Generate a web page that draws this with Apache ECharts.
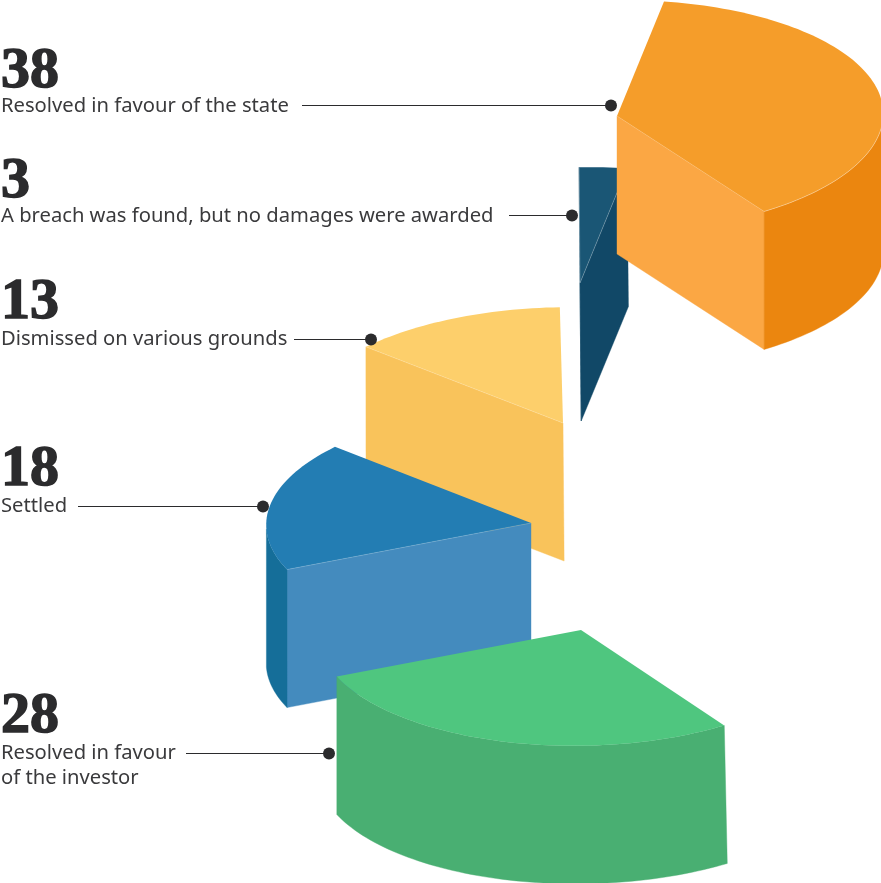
<!DOCTYPE html>
<html>
<head>
<meta charset="utf-8">
<title>Outcomes of investor-state cases</title>
<style>
  html, body { margin: 0; padding: 0; background: #fff; }
  #chart { width: 881px; height: 883px; }
</style>
<script src="https://cdn.jsdelivr.net/npm/echarts@6/dist/echarts.min.js"></script>
</head>
<body>
<div id="chart"></div>
<script>
// Case outcomes, in clockwise order around the pie
const categories = [
  'Resolved in favour of the state',
  'Resolved in favour\nof the investor',
  'Settled',
  'Dismissed on various grounds',
  'A breach was found, but no damages were awarded'
];
const values = [38, 28, 18, 13, 3];

// Colours per slice: top face, cut face, rim
const topColors = ['#F59D2A', '#4FC67F', '#237DB3', '#FDCF6B', '#1A5675'];
const cutColors = ['#FBA744', '#49AF72', '#448BBE', '#F9C35B', '#114867'];
const rimColors = ['#EB860F', '#49AF72', '#156E99', '#F9C35B', '#114867'];

// Exploded layout: where each slice's tip sits, and how slices stack
const tips = [[617, 116], [581, 630], [531, 523], [563, 423], [580, 283]];
const stackOrder = [1, 4, 3, 2, 0];
const leans = [0, 0.0077, 0, 0.005, 0.005];
const widen = [0.995, 0.99, 1.005, 1.005, 0.96];
const drift = [1.7, 0, 2.3, 0, 0];

// Oblique view of the unit circle, and the extrusion depth
const axisU = [47, -114.5];
const axisV = [262, 17.5];
const depth = 138;

// Highlight strength along the rim and along the cut edge
const rimGlow = [0.5, 0, 0, 0, 0];
const cutGlow = [0.25, 0, 0.3, 0.3, 0.4];

// Captions: leader line extent and the vertical centre of each text block
const leaders = [
  { x0: 302, x1: 611, y: 105.5 },
  { x0: 186, x1: 329, y: 753.5 },
  { x0: 78, x1: 263, y: 506.5 },
  { x0: 294, x1: 371, y: 339.5 },
  { x0: 509, x1: 572, y: 215.5 }
];
const numberY = [72, 717, 470, 303, 182];
const captionY = [106, 765.5, 506, 339, 216];

const INK = '#2B2B2D';
const total = values.reduce((a, b) => a + b, 0);
const numberFont = 'Liberation Serif';
const captionFont = 'Noto Sans';

function pointAt(i, deg) {
  const t = deg * Math.PI / 180;
  const tip = tips[i];
  const c = Math.cos(t);
  const s = Math.sin(t);
  return [
    tip[0] + c * axisU[0] + s * axisV[0] * widen[i] + drift[i] * (1 - c),
    tip[1] + c * axisU[1] + s * axisV[1]
  ];
}

function arcPoints(i, from, to) {
  const pts = [];
  const n = Math.max(4, Math.ceil((to - from) / 1.5));
  for (let k = 0; k <= n; k++) pts.push(pointAt(i, from + (to - from) * k / n));
  return pts;
}

function renderSlice(params, api) {
  const i = params.dataIndex;
  const before = values.slice(0, i).reduce((a, b) => a + b, 0);
  const from = echarts.number.linearMap(before, [0, total], [0, 360]);
  const to = echarts.number.linearMap(before + api.value(0), [0, total], [0, 360]);
  const tip = tips[i];
  const z = stackOrder[i] * 10;
  const arc = arcPoints(i, from, to);
  const sink = p => [p[0] + leans[i] * (p[0] - 337), p[1] + depth];
  const children = [];

  const wall = (pts, fill, z2) => children.push({
    type: 'polygon', z2, silent: true,
    shape: { points: pts.concat(pts.slice().reverse().map(sink)) },
    style: { fill, stroke: fill, lineWidth: 0.4 }
  });

  // Walls: an edge shows only where the outline runs leftwards on screen
  const cuts = [[tip, arc[0]], [arc[arc.length - 1], tip]].filter(e => e[1][0] < e[0][0]);
  cuts.forEach(edge => wall(edge, cutColors[i], z));
  const visibleRim = arc.filter((p, k) => k + 1 < arc.length ? arc[k + 1][0] < p[0] : arc[k - 1][0] > p[0]);
  if (visibleRim.length > 1) wall(visibleRim, rimColors[i], z + 1);

  // Top face and its fine highlights
  children.push({
    type: 'polygon', z2: z + 2, silent: true,
    shape: { points: [tip].concat(arc) },
    style: { fill: topColors[i] }
  });
  if (rimGlow[i] > 0) {
    children.push({
      type: 'polyline', z2: z + 3, silent: true,
      shape: { points: visibleRim },
      style: { fill: null, stroke: 'rgba(255,255,255,' + rimGlow[i] + ')', lineWidth: 0.7 }
    });
  }
  if (cutGlow[i] > 0) {
    cuts.forEach(edge => children.push({
      type: 'polyline', z2: z + 3, silent: true,
      shape: { points: edge },
      style: { fill: null, stroke: 'rgba(255,255,255,' + cutGlow[i] + ')', lineWidth: 0.6 }
    }));
  }

  // Leader line, dot, value and caption
  const l = leaders[i];
  children.push({
    type: 'line', z2: 100, silent: true,
    shape: { x1: l.x0, y1: l.y, x2: l.x1, y2: l.y },
    style: { stroke: INK, lineWidth: 1 }
  }, {
    type: 'circle', z2: 101, silent: true,
    shape: { cx: l.x1, cy: l.y, r: 6 },
    style: { fill: INK }
  }, {
    type: 'text', z2: 102, silent: true,
    style: {
      x: 1, y: numberY[i], text: String(api.value(0)),
      font: 'bold 58px "' + numberFont + '"',
      fill: INK, stroke: INK, lineWidth: 1.5,
      align: 'left', verticalAlign: 'middle'
    }
  }, {
    type: 'text', z2: 102, silent: true,
    style: {
      x: 1, y: captionY[i], text: categories[i],
      font: '20.2px "' + captionFont + '"',
      fill: '#3A3A3C', lineHeight: 25,
      align: 'left', verticalAlign: 'middle'
    }
  });
  return { type: 'group', children };
}

const chart = echarts.init(document.getElementById('chart'), null, { renderer: 'canvas' });
chart.setOption({
  animation: false,
  backgroundColor: '#fff',
  tooltip: { show: false },
  series: [{
    type: 'custom',
    coordinateSystem: 'none',
    clip: false,
    renderItem: renderSlice,
    data: values.map((v, i) => ({ name: categories[i], value: [v] }))
  }]
});
</script>
</body>
</html>
